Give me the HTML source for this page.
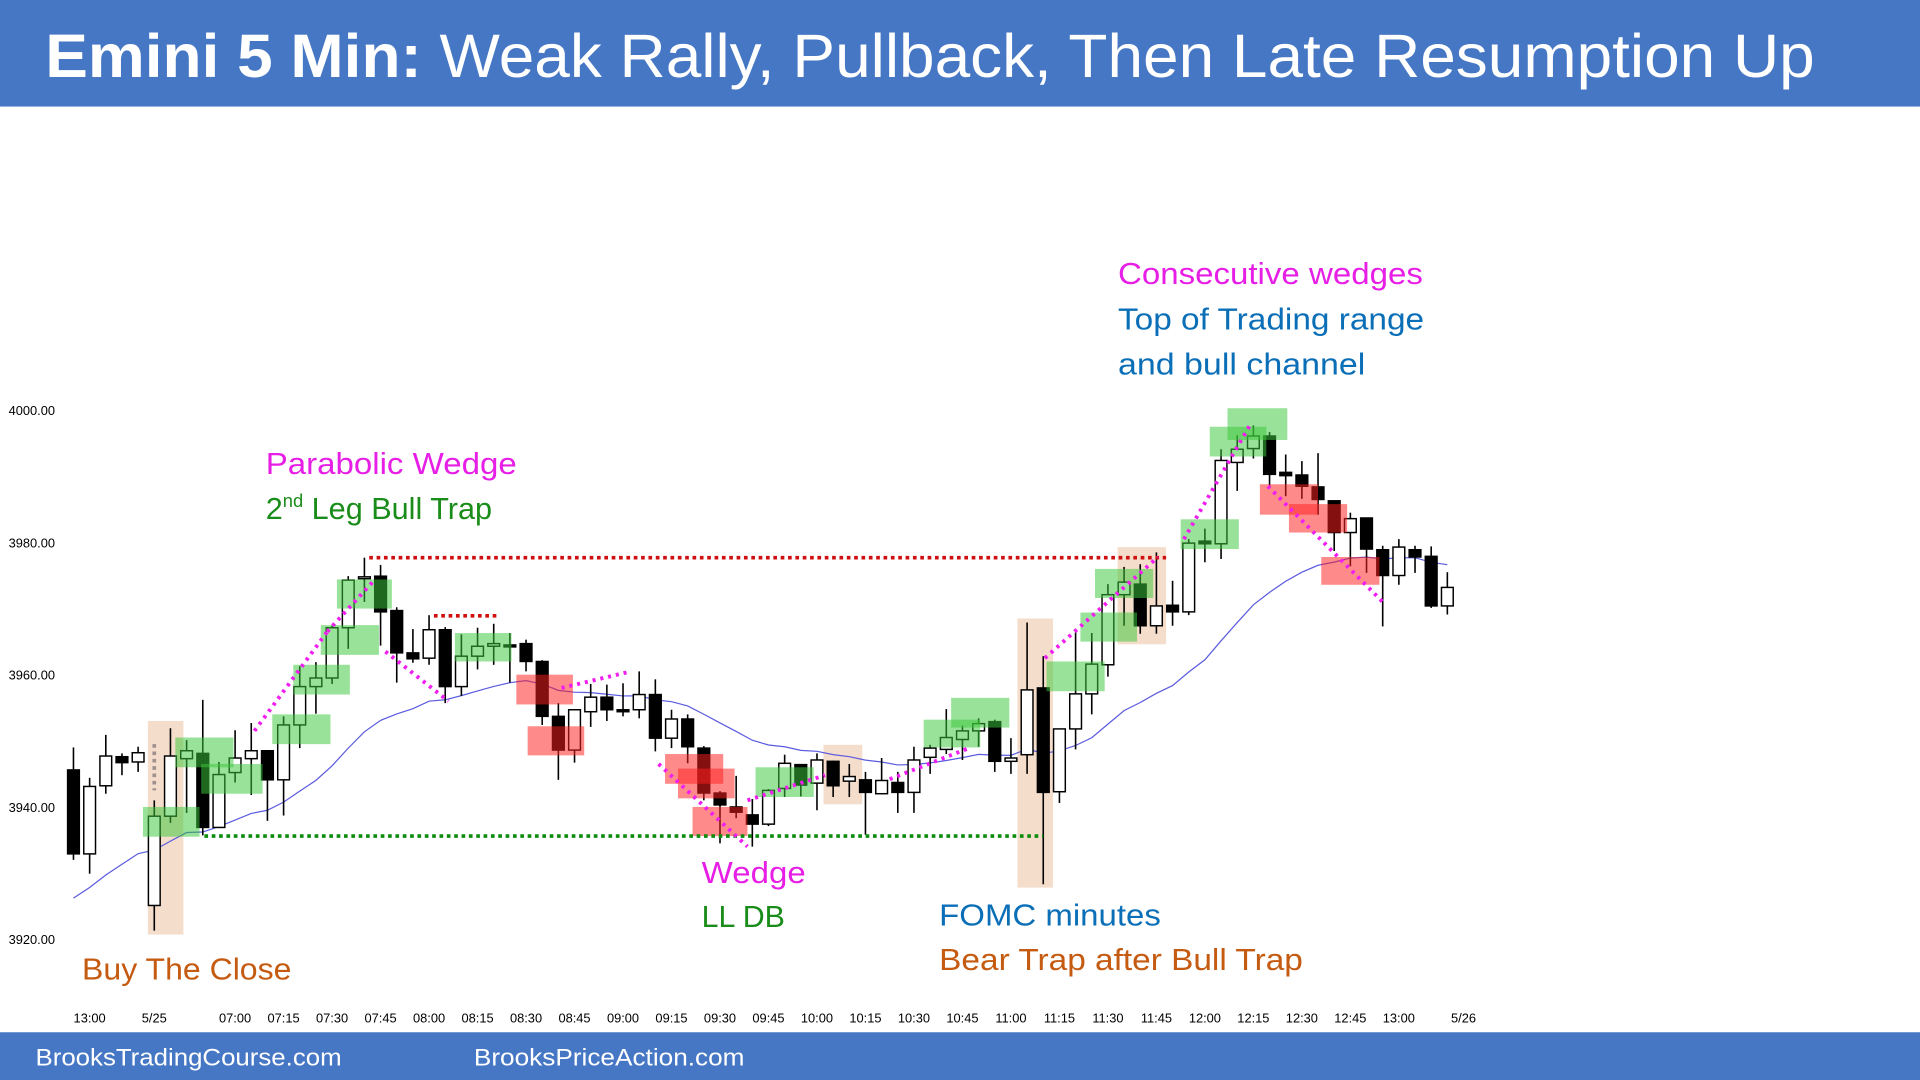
<!DOCTYPE html>
<html><head><meta charset="utf-8"><style>
html,body{margin:0;padding:0;background:#fff;}
svg{display:block;font-family:"Liberation Sans",sans-serif;}
</style></head><body>
<svg id="chart" width="1920" height="1080" viewBox="0 0 1568 882" preserveAspectRatio="none" xmlns="http://www.w3.org/2000/svg">
<rect x="0" y="0" width="1568" height="87" fill="#4677C4"/>
<text x="37" y="63" font-size="50" fill="#fff" textLength="1445" lengthAdjust="spacingAndGlyphs"><tspan font-weight="bold">Emini 5 Min:</tspan> Weak Rally, Pullback, Then Late Resumption Up</text>
<rect x="0" y="843" width="1568" height="39" fill="#4677C4"/>
<text x="29" y="870" font-size="20" fill="#fff" textLength="250" lengthAdjust="spacingAndGlyphs">BrooksTradingCourse.com</text>
<text x="387" y="870" font-size="20" fill="#fff" textLength="221" lengthAdjust="spacingAndGlyphs">BrooksPriceAction.com</text>
<g id="gBoxesUnder"></g>
<g id="gEma"></g>
<g id="gCandles"></g>
<g id="gBoxes"></g>
<g id="gLines"></g>
<g id="gAxis"></g>
<g font-family="'Liberation Sans',sans-serif" font-size="25">
<text x="217" y="387" fill="#E61EE6" textLength="205" lengthAdjust="spacingAndGlyphs">Parabolic Wedge</text>
<text x="217" y="424" fill="#1A8C1A">2<tspan font-size="15" dy="-10">nd</tspan><tspan dy="10"> Leg Bull Trap</tspan></text>
<text x="913" y="232" fill="#E61EE6" textLength="249" lengthAdjust="spacingAndGlyphs">Consecutive  wedges</text>
<text x="913" y="269" fill="#0B6FB8" textLength="250" lengthAdjust="spacingAndGlyphs">Top of Trading range</text>
<text x="913" y="306" fill="#0B6FB8" textLength="202" lengthAdjust="spacingAndGlyphs">and bull channel</text>
<text x="573" y="721" fill="#E61EE6" textLength="85" lengthAdjust="spacingAndGlyphs">Wedge</text>
<text x="573" y="757" fill="#1A8C1A" textLength="68" lengthAdjust="spacingAndGlyphs">LL DB</text>
<text x="767" y="756" fill="#0B6FB8" textLength="181" lengthAdjust="spacingAndGlyphs">FOMC minutes</text>
<text x="767" y="792" fill="#C55A11" textLength="297" lengthAdjust="spacingAndGlyphs">Bear Trap after Bull Trap</text>
<text x="67" y="800" fill="#C55A11" textLength="171" lengthAdjust="spacingAndGlyphs">Buy The Close</text>
</g>
</svg>
<script>
// Chart data (bar index order, 5-minute bars)
const opens  = [3945.6,3932.9,3943.2,3947.6,3946.8,3925.1,3938.6,3947.3,3948.1,3936.9,3945.2,3947.3,3948.5,3944.1,3952.4,3958.2,3959.5,3967.1,3974.6,3974.9,3969.7,3963.3,3962.5,3966.8,3958.2,3962.8,3964.3,3964.5,3964.7,3962.0,3953.7,3948.6,3954.4,3956.6,3954.7,3954.7,3957.0,3950.4,3953.3,3948.9,3942.1,3940.0,3938.8,3937.4,3942.8,3946.4,3943.6,3946.9,3943.9,3944.1,3942.0,3943.7,3942.2,3947.5,3948.7,3950.2,3951.5,3952.9,3946.9,3947.9,3958.0,3942.3,3951.8,3957.1,3961.5,3972.1,3973.7,3967.4,3970.5,3969.5,3980.2,3979.8,3992.1,3994.2,3996.1,3990.6,3990.2,3988.4,3986.3,3981.5,3983.7,3978.9,3975.0,3978.9,3977.9,3970.4];
const highs  = [3949.0,3944.4,3950.9,3948.1,3949.1,3941.0,3951.9,3950.1,3956.2,3946.8,3951.6,3952.7,3948.6,3953.7,3961.3,3961.9,3967.4,3974.9,3977.7,3976.6,3970.2,3966.9,3969.0,3967.2,3966.1,3967.1,3967.7,3966.3,3965.3,3962.2,3955.7,3954.7,3958.6,3958.5,3958.7,3960.5,3959.3,3954.7,3954.0,3949.2,3942.4,3944.7,3941.2,3942.7,3947.9,3946.5,3948.1,3947.0,3946.5,3945.3,3947.4,3945.3,3949.1,3949.4,3954.8,3952.3,3953.4,3953.2,3950.4,3967.9,3962.8,3951.8,3966.4,3966.3,3973.7,3976.3,3976.7,3978.5,3974.2,3980.5,3982.1,3994.1,3996.2,3997.7,3996.7,3993.3,3992.3,3993.5,3986.3,3984.5,3983.7,3979.5,3980.5,3979.5,3979.4,3975.5];
const lows   = [3932.0,3929.9,3942.0,3944.8,3945.3,3921.3,3937.6,3939.1,3935.7,3936.9,3943.7,3941.8,3937.9,3938.7,3948.9,3954.1,3958.6,3963.9,3971.0,3964.4,3958.8,3961.8,3961.5,3955.7,3956.8,3960.8,3961.5,3958.8,3960.5,3952.4,3944.1,3946.7,3952.1,3953.0,3953.7,3953.4,3948.4,3948.9,3946.6,3941.0,3934.5,3938.3,3934.0,3937.1,3941.5,3941.6,3939.5,3941.5,3941.5,3935.8,3941.9,3939.1,3939.1,3945.0,3948.0,3947.1,3949.1,3945.3,3945.0,3945.0,3928.3,3940.6,3948.7,3954.0,3959.7,3967.4,3966.2,3966.2,3967.4,3969.0,3977.0,3977.5,3987.8,3992.7,3988.4,3987.0,3986.6,3984.2,3978.7,3976.4,3975.4,3967.3,3973.6,3975.4,3970.1,3969.1];
const closes = [3932.9,3943.1,3947.7,3946.7,3948.2,3938.6,3947.7,3948.5,3936.9,3944.9,3947.4,3948.5,3944.1,3952.4,3958.2,3959.5,3967.1,3974.3,3974.8,3969.5,3963.3,3962.4,3966.8,3958.2,3962.8,3964.3,3964.7,3964.2,3962.0,3953.7,3948.6,3954.7,3956.6,3954.7,3954.4,3957.0,3950.4,3953.3,3949.1,3942.1,3940.3,3939.2,3937.4,3942.5,3946.6,3943.3,3947.1,3943.2,3944.6,3942.2,3944.0,3942.2,3947.1,3948.9,3950.5,3951.5,3952.6,3946.9,3947.4,3957.7,3942.2,3951.8,3957.1,3961.6,3972.1,3974.0,3967.4,3970.4,3969.5,3979.9,3979.8,3992.4,3994.1,3996.1,3990.3,3990.1,3988.5,3986.5,3981.5,3983.6,3979.0,3975.0,3979.3,3977.8,3970.4,3973.2];
const priceTicks = [3920, 3940, 3960, 3980, 4000];
const timeLabels = ["13:00","5/25","07:00","07:15","07:30","07:45","08:00","08:15","08:30","08:45","09:00","09:15","09:30","09:45","10:00","10:15","10:30","10:45","11:00","11:15","11:30","11:45","12:00","12:15","12:30","12:45","13:00","5/26"];
const timeLabelBars = [1,5,10,13,16,19,22,25,28,31,34,37,40,43,46,49,52,55,58,61,64,67,70,73,76,79,82,86];

const NS = "http://www.w3.org/2000/svg";
function X(i){ return 60 + i*13.2; }
function Y(p){ return 335 + (4000 - p)*5.4; }
function mk(tag, attrs, parent){
  const e = document.createElementNS(NS, tag);
  for (const k in attrs) e.setAttribute(k, attrs[k]);
  parent.appendChild(e);
  return e;
}
const gCandles = document.getElementById('gCandles');
const gBoxes = document.getElementById('gBoxes');
const gUnder = document.getElementById('gBoxesUnder');
const gLines = document.getElementById('gLines');
const gAxis = document.getElementById('gAxis');
const gEma = document.getElementById('gEma');

// Tan highlight boxes (bar index range, price range) drawn under candles
const tanBoxes = [[4.6,6.8,3920.7,3953],[46.4,48.8,3940.4,3949.4],[58.4,60.6,3927.8,3968.5],[64.6,67.6,3964.6,3979.3]];
tanBoxes.forEach(b=>{
  const r = mk('rect',{x:X(b[0]),y:Y(b[3]),width:X(b[1])-X(b[0]),height:Y(b[2])-Y(b[3]),fill:'#F5DDCB'},gUnder);
  
  
});

// EMA
let ema = 3925.5; const alpha = 2/21; let pts = [];
closes.forEach((c,i)=>{ ema = ema + alpha*(c-ema); pts.push(X(i)+','+Y(ema)); });
const emaLine = mk('polyline',{points:pts.join(' '),fill:'none',stroke:'#5B5BE0','stroke-width':1},gEma);



// Candles
closes.forEach((c,i)=>{
  const o = opens[i], h = highs[i], l = lows[i];
  const g = mk('g',{},gCandles);
  
  
  mk('line',{x1:X(i),x2:X(i),y1:Y(h),y2:Y(l),stroke:'#000','stroke-width':1.3},g);
  const top = Y(Math.max(o,c)), bot = Y(Math.min(o,c));
  const bull = c >= o;
  mk('rect',{x:X(i)-4.8,y:top,width:9.6,height:Math.max(1.5,bot-top),fill:bull?'#fff':'#000',stroke:'#000','stroke-width':1.2},g);
});

// Green / red signal boxes (bar index range, price range)
const greenBoxes = [[4.3,7.8,3935.5,3940],[6.3,9.9,3946,3950.5],[7.9,11.7,3942,3946.5],[12.3,15.9,3949.5,3954],[13.6,17.1,3957,3961.5],[15.3,18.9,3963,3967.5],[16.3,19.7,3970,3974.4],[23.6,27.1,3962,3966.3],[42.2,45.8,3941.5,3946],[52.6,56.1,3949,3953.2],[54.3,57.9,3952,3956.5],[60.2,63.8,3957.5,3962],[62.3,65.8,3965,3969.4],[63.2,66.8,3971.6,3976],[68.5,72.1,3979,3983.5],[70.3,73.8,3993,3997.5],[71.4,75.1,3995.5,4000.3]];
greenBoxes.forEach(b=>{
  const r = mk('rect',{x:X(b[0]),y:Y(b[3]),width:X(b[1])-X(b[0]),height:Y(b[2])-Y(b[3]),fill:'#3CC83C','fill-opacity':0.52},gBoxes);
  
  
});
const redBoxes = [[27.4,30.9,3955.5,3960],[28.1,31.6,3947.8,3952.2],[36.6,40.2,3943.5,3948],[37.4,40.9,3941.3,3945.8],[38.3,41.7,3935.6,3940],[73.4,77,3984.2,3988.8],[75.2,78.8,3981.5,3985.8],[77.2,80.8,3973.6,3977.8]];
redBoxes.forEach(b=>{
  const r = mk('rect',{x:X(b[0]),y:Y(b[3]),width:X(b[1])-X(b[0]),height:Y(b[2])-Y(b[3]),fill:'#FF1E1E','fill-opacity':0.52},gBoxes);
  
  
});

// Dotted reference lines (bar index, price)
const hLines = [[18.3,67.6,3977.7,'#D01010','red-resistance-line'],[22.3,26.3,3968.9,'#D01010','red-short-line'],[8.1,60,3935.6,'#0E8C0E','green-support-line']];
hLines.forEach(l=>{
  const e = mk('line',{x1:X(l[0]),x2:X(l[1]),y1:Y(l[2]),y2:Y(l[2]),stroke:l[3],'stroke-width':3,'stroke-dasharray':'3 3'},gLines);
  
  
});
const wedgeLines = [[11.2,3951.5,15.7,3966.5],[15.7,3966.5,18.5,3974],[19.3,3963.5,23.2,3956],[30.2,3958,34.5,3960.5],[36.2,3946.5,41.7,3934],[41.7,3941,46.5,3944.8],[50.5,3944.2,55.3,3948.8],[60.1,3962.5,67.1,3977.8],[68.7,3980.5,72.8,3997.8],[73.9,3988.5,81,3971]];
wedgeLines.forEach(w=>{
  const e = mk('line',{x1:X(w[0]),y1:Y(w[1]),x2:X(w[2]),y2:Y(w[3]),stroke:'#F01EF0','stroke-width':3.2,'stroke-dasharray':'2.5 4','stroke-linecap':'butt'},gLines);
  
  
});
const gray = mk('line',{x1:X(5),x2:X(5),y1:Y(3949.5),y2:Y(3942.5),stroke:'#A09090','stroke-width':3,'stroke-dasharray':'3 3'},gLines);



// Axes labels
priceTicks.forEach(p=>{
  const t = mk('text',{x:7,y:Y(p)+4,'font-size':10.5,fill:'#000'},gAxis);
  t.textContent = p.toFixed(2);
  
  
});
timeLabels.forEach((s,k)=>{
  const t = mk('text',{x:X(timeLabelBars[k]),y:835,'font-size':10.5,fill:'#000','text-anchor':'middle'},gAxis);
  t.textContent = s;
  
  
});
</script>
</body></html>
